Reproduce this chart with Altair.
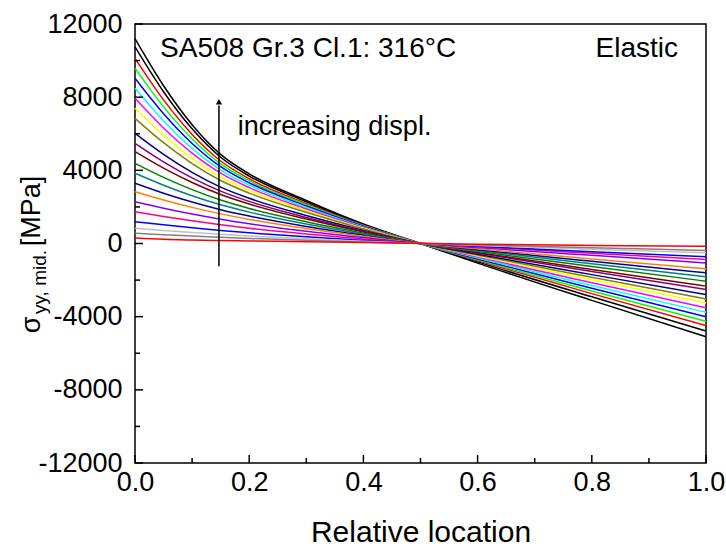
import altair as alt
import pandas as pd

# ---------------- data ----------------
X_POS = [0.0, 0.05, 0.1, 0.15, 0.2, 0.3, 0.4, 0.5, 0.6, 0.8, 1.0]

SERIES = ["s01", "s02", "s03", "s04", "s05", "s06", "s07", "s08", "s09", "s10", "s11",
          "s12", "s13", "s14", "s15", "s16", "s17", "s18", "s19", "s20", "s21", "s22"]
COLORS = ["#000000", "#000000", "#FF0000", "#00FF00", "#0000FF", "#00FFFF", "#FF00FF",
          "#FFFF00", "#808000", "#000080", "#800080", "#800000", "#008000", "#008080",
          "#0000A0", "#FF8000", "#8000FF", "#FF0080", "#0000FF", "#C0C0C0", "#808080",
          "#FF0000"]

S01 = [11200, 8624, 6496, 4872, 3808, 2352, 1064, 0, -1071, -3111, -5100]
S02 = [10750, 8297, 6267, 4714, 3689, 2279, 1033, 0, -1004, -2916, -4780]
S03 = [10124, 7850, 5963, 4510, 3539, 2187, 995, 0, -943, -2739, -4490]
S04 = [9578, 7470, 5713, 4351, 3425, 2117, 968, 0, -895, -2599, -4260]
S05 = [9031, 7092, 5468, 4198, 3316, 2050, 943, 0, -842, -2446, -4010]
S06 = [8484, 6701, 5201, 4017, 3183, 1968, 909, 0, -790, -2294, -3760]
S07 = [7938, 6312, 4937, 3842, 3055, 1889, 876, 0, -739, -2147, -3520]
S08 = [7391, 5911, 4653, 3642, 2903, 1796, 837, 0, -683, -1983, -3250]
S09 = [6845, 5511, 4371, 3445, 2754, 1704, 797, 0, -636, -1848, -3030]
S10 = [6025, 4878, 3892, 3085, 2473, 1530, 718, 0, -586, -1702, -2790]
S11 = [5478, 4465, 3588, 2862, 2301, 1424, 671, 0, -527, -1531, -2510]
S12 = [5020, 4118, 3333, 2676, 2157, 1335, 632, 0, -489, -1421, -2330]
S13 = [4384, 3616, 2944, 2375, 1918, 1188, 564, 0, -433, -1257, -2060]
S14 = [3838, 3187, 2612, 2120, 1716, 1063, 506, 0, -382, -1110, -1820]
S15 = [3291, 2747, 2264, 1846, 1498, 928, 443, 0, -336, -976, -1600]
S16 = [2834, 2381, 1975, 1620, 1317, 816, 391, 0, -290, -842, -1380]
S17 = [2286, 1931, 1610, 1327, 1081, 670, 322, 0, -223, -647, -1060]
S18 = [1740, 1479, 1241, 1028, 839, 520, 251, 0, -184, -534, -875]
S19 = [1193, 1020, 860, 715, 585, 363, 175, 0, -153, -445, -730]
S20 = [830, 714, 606, 506, 415, 257, 125, 0, -107, -311, -510]
S21 = [557, 479, 407, 340, 279, 173, 84, 0, -80, -232, -380]
S22 = [300, 230, 190, 160, 140, 100, 60, 10, -40, -110, -150]

VALUES = [S01, S02, S03, S04, S05, S06, S07, S08, S09, S10, S11,
          S12, S13, S14, S15, S16, S17, S18, S19, S20, S21, S22]

X_LABELS = [0.0, 0.2, 0.4, 0.6, 0.8, 1.0]
X_MINOR = [0.1, 0.3, 0.5, 0.7, 0.9]
Y_LABELS = [-12000, -8000, -4000, 0, 4000, 8000, 12000]
Y_MINOR = [-10000, -6000, -2000, 2000, 6000, 10000]

ARROW_X = 0.147
ARROW_Y0 = -1250
ARROW_Y1 = 7550
ARROW_HEAD = 7750

# ---------------- build ----------------
rows = []
for name, vals in zip(SERIES, VALUES):
    for xv, yv in zip(X_POS, vals):
        rows.append({"series": name, "x": xv, "y": yv})
df = pd.DataFrame(rows)

FONT = "Liberation Sans"
W, H = 571, 439

xscale = alt.Scale(domain=[0, 1], nice=False, zero=False)
yscale = alt.Scale(domain=[-12000, 12000], nice=False, zero=False)

X_AXIS = alt.Axis(
    values=X_LABELS, format=".1f", ticks=False, domain=False, grid=False,
    labelFont=FONT, labelFontSize=27, labelColor="black", labelPadding=6,
    labelFlush=False, labelOverlap=False,
    title="Relative location", titleFont=FONT, titleFontSize=30,
    titleFontWeight="normal", titleColor="black", titleBaseline="alphabetic",
    titleY=78)
Y_AXIS = alt.Axis(
    values=Y_LABELS, labelExpr="'' + datum.value", ticks=False, domain=False,
    grid=False, labelFont=FONT, labelFontSize=27, labelColor="black",
    labelPadding=13, labelOverlap=False, title="")


def X(field):
    return alt.X(field, scale=xscale, axis=X_AXIS)


def Y(field):
    return alt.Y(field, scale=yscale, axis=Y_AXIS)


lines = alt.Chart(df).mark_line(strokeWidth=1.5, interpolate="monotone").encode(
    x=X("x:Q"), y=Y("y:Q"),
    color=alt.Color("series:N", scale=alt.Scale(domain=SERIES, range=COLORS), legend=None),
)

xmaj = alt.Chart(pd.DataFrame({"x": X_LABELS})).mark_rule(color="black", strokeWidth=1.5).encode(
    x=X("x:Q"), y=alt.value(H), y2=alt.value(H - 8))
xmin = alt.Chart(pd.DataFrame({"x": X_MINOR})).mark_rule(color="black", strokeWidth=1.5).encode(
    x=X("x:Q"), y=alt.value(H), y2=alt.value(H - 5))
ymaj = alt.Chart(pd.DataFrame({"y": Y_LABELS})).mark_rule(color="black", strokeWidth=1.5).encode(
    y=Y("y:Q"), x=alt.value(0), x2=alt.value(8))
ymin = alt.Chart(pd.DataFrame({"y": Y_MINOR})).mark_rule(color="black", strokeWidth=1.5).encode(
    y=Y("y:Q"), x=alt.value(0), x2=alt.value(5))

arrow = alt.Chart(pd.DataFrame({"x": [ARROW_X], "y": [ARROW_Y0], "y2": [ARROW_Y1]})).mark_rule(
    color="black", strokeWidth=1.5).encode(x=X("x:Q"), y=Y("y:Q"), y2="y2:Q")
head = alt.Chart(pd.DataFrame({"x": [ARROW_X], "y": [ARROW_HEAD]})).mark_point(
    shape="triangle-up", filled=True, size=40, color="black", opacity=1).encode(
    x=X("x:Q"), y=Y("y:Q"))

ann1 = alt.Chart(pd.DataFrame({"x": [0.044], "y": [10200], "t": ["SA508 Gr.3 Cl.1: 316\u00b0C"]})).mark_text(
    align="left", baseline="alphabetic", font=FONT, fontSize=28, color="black").encode(
    x=X("x:Q"), y=Y("y:Q"), text="t:N")
ann3 = alt.Chart(pd.DataFrame({"x": [0.18], "y": [5950], "t": ["increasing displ."]})).mark_text(
    align="left", baseline="alphabetic", font=FONT, fontSize=27, color="black").encode(
    x=X("x:Q"), y=Y("y:Q"), text="t:N")
ann2 = alt.Chart(pd.DataFrame({"x": [0.951], "y": [10200], "t": ["Elastic"]})).mark_text(
    align="right", baseline="alphabetic", font=FONT, fontSize=28, color="black").encode(
    x=X("x:Q"), y=Y("y:Q"), text="t:N")

# y-axis title built from pieces (sigma with subscript), placed in the left margin
yt_sigma = alt.Chart(pd.DataFrame({"t": ["\u03c3"]})).mark_text(
    angle=270, align="center", baseline="alphabetic", font=FONT, fontSize=27, color="black").encode(
    x=alt.value(-95), y=alt.value(301), text="t:N")
yt_unit = alt.Chart(pd.DataFrame({"t": ["[MPa]"]})).mark_text(
    angle=270, align="center", baseline="alphabetic", font=FONT, fontSize=27, color="black").encode(
    x=alt.value(-95), y=alt.value(187), text="t:N")
yt_sub = alt.Chart(pd.DataFrame({"t": ["yy, mid."]})).mark_text(
    angle=270, align="center", baseline="alphabetic", font=FONT, fontSize=19, color="black").encode(
    x=alt.value(-89), y=alt.value(258), text="t:N")

chart = alt.layer(lines, xmaj, xmin, ymaj, ymin, arrow, head, ann1, ann2, ann3,
                  yt_sigma, yt_unit, yt_sub).properties(
    width=W, height=H,
    padding={"left": 135, "top": 24, "right": 20, "bottom": 85},
    autosize="none",
    background="white",
).configure_view(stroke="black", strokeWidth=1.5)

chart.save("out.html", embed_options={"renderer": "svg", "actions": False})
